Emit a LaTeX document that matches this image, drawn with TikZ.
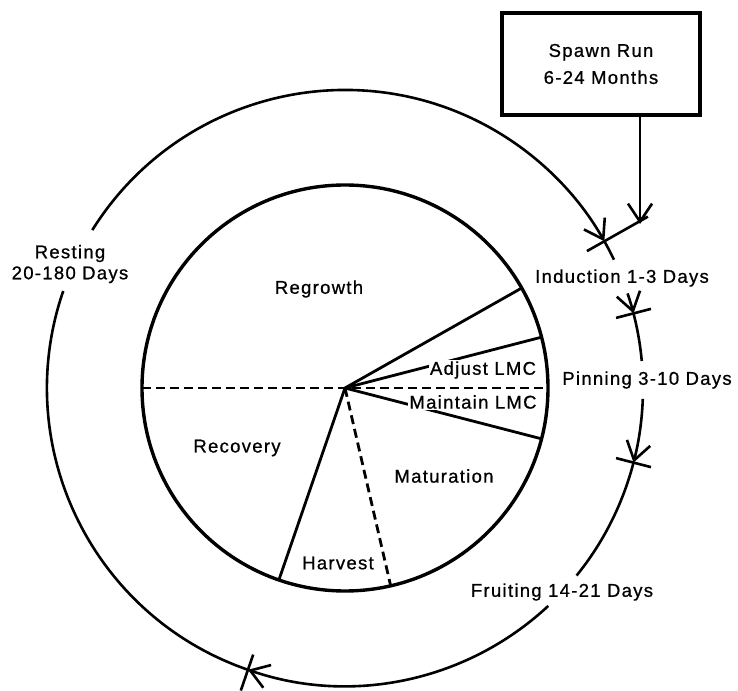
\documentclass[tikz,border=0pt]{standalone}
\usepackage{fontspec}
\setmainfont{Liberation Sans}
\newfontfamily\cyclefont[LetterSpace=7,FakeBold=0.8]{Liberation Sans}
\usetikzlibrary{arrows.meta}
\usetikzlibrary{positioning}

\begin{document}
\begin{tikzpicture}[x=1pt,y=1pt,
  lbl/.style={font=\cyclefont\fontsize{18.5}{21}\selectfont, inner sep=1pt, align=center},
  wheel/.style={line width=3.4pt},
  ring/.style={line width=2.6pt},
  spoke/.style={line width=2.8pt},
  split/.style={line width=2.8pt, dash pattern=on 9pt off 5pt},
  tickmark/.style={line width=2.6pt},
  flow/.style={line width=2.6pt, -{Straight Barb[length=18pt,width=24pt,line width=2.6pt]}}]
\useasboundingbox (-345,-302) rectangle (393,388);
\coordinate (hub) at (0,0);

% inner wheel
\draw [wheel] (hub) circle [radius=203pt];
\draw [spoke] (hub) -- (29.5:203);
\draw [spoke] (hub) -- (14.5:203);
\draw [spoke] (hub) -- (-14.5:203);
\draw [spoke] (hub) -- (-109:203);
\draw [split] (180:203) -- (0:203);
\draw [split] (hub) -- (-77:203);

\node [lbl] (regrowth) at (-26,99) {Regrowth};
\node [lbl, fill=white] (adjust) at (138,18) {Adjust LMC};
\node [lbl, fill=white] (maintain) at (128,-14) {Maintain LMC};
\node [lbl] (recovery) at (-108,-60) {Recovery};
\node [lbl] (maturation) at (99,-88) {Maturation};
\node [lbl] (harvest) at (-7,-175) {Harvest};

% outer ring
\draw [ring] (251:298) arc [start angle=251, end angle=161, radius=298pt];
\draw [flow] (148:298) arc [start angle=148, end angle=29.5, radius=298pt];
\draw [ring] (29.5:298) arc [start angle=29.5, end angle=25.5, radius=298pt];
\draw [flow] (18.5:298) arc [start angle=18.5, end angle=14.5, radius=298pt];
\draw [ring] (14.5:298) arc [start angle=14.5, end angle=5.2, radius=298pt];
\draw [flow] (-2.1:298) arc [start angle=-2.1, end angle=-14.5, radius=298pt];
\draw [ring] (-14.5:298) arc [start angle=-14.5, end angle=-39, radius=298pt];
\draw [flow] (-47:298) arc [start angle=-47, end angle=-109, radius=298pt];

\draw [tickmark] (29.5:278) -- (29.5:348);
\draw [tickmark] (14.5:280) -- (14.5:316);
\draw [tickmark] (-14.5:280) -- (-14.5:316);
\draw [tickmark] (-109:282) -- (-109:320);

\node [lbl] (resting) at (-275,124) {Resting\\20-180 Days};
\node [lbl] (induction) at (277,110) {Induction 1-3 Days};
\node [lbl] (pinning) at (302,8) {Pinning 3-10 Days};
\node [lbl] (fruiting) at (217,-204) {Fruiting 14-21 Days};

% spawn run
\node [lbl, draw, line width=3.4pt, minimum width=198pt, minimum height=102pt] (spawn) at (256,324) {Spawn Run\\[6pt]6-24 Months};
\coordinate (spawnin) at (295,164);
\draw [flow] (spawn.south -| spawnin) -- (spawnin);
\end{tikzpicture}
\end{document}
